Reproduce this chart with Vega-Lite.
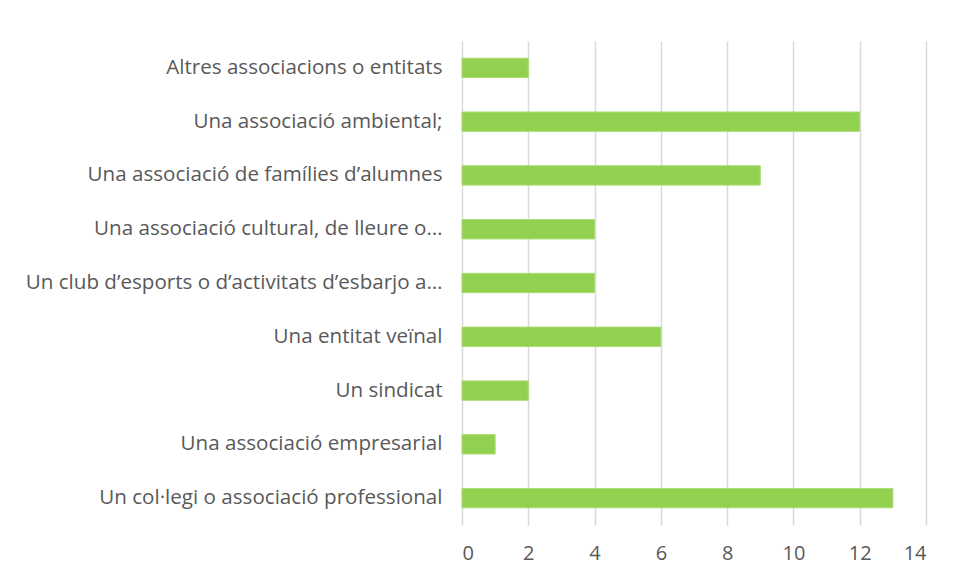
{
  "$schema": "https://vega.github.io/schema/vega-lite/v6.json",
  "width": 464,
  "height": 484,
  "autosize": {"type": "none"},
  "padding": {"left": 462, "top": 41, "right": 31, "bottom": 59},
  "background": "white",
  "data": {
    "values": [
      {"cat": "Altres associacions o entitats", "v": 2},
      {"cat": "Una associació ambiental;", "v": 12},
      {"cat": "Una associació de famílies d’alumnes", "v": 9},
      {"cat": "Una associació cultural, de lleure o…", "v": 4},
      {"cat": "Un club d’esports o d’activitats d’esbarjo a…", "v": 4},
      {"cat": "Una entitat veïnal", "v": 6},
      {"cat": "Un sindicat", "v": 2},
      {"cat": "Una associació empresarial", "v": 1},
      {"cat": "Un col·legi o associació professional", "v": 13}
    ]
  },
  "mark": {"type": "bar", "color": "#92D050", "stroke": "#a9dc73", "strokeWidth": 1},
  "encoding": {
    "y": {
      "field": "cat",
      "type": "nominal",
      "sort": null,
      "scale": {"paddingInner": 0.64, "paddingOuter": 0.32},
      "axis": {
        "title": null,
        "ticks": false,
        "domain": false,
        "grid": false,
        "labelFont": "Open Sans",
        "labelFontSize": 20.6,
        "labelColor": "#595959",
        "labelPadding": 20,
        "labelLimit": 0
      }
    },
    "x": {
      "field": "v",
      "type": "quantitative",
      "scale": {"domain": [0, 14], "nice": false},
      "axis": {
        "title": null,
        "values": [0, 2, 4, 6, 8, 10, 12, 14],
        "ticks": false,
        "domain": false,
        "grid": true,
        "gridColor": "#d9d9d9",
        "gridWidth": 1.5,
        "labelFont": "Open Sans",
        "labelFontSize": 20,
        "labelColor": "#595959",
        "labelPadding": 18
      }
    }
  },
  "config": {"view": {"stroke": null}}
}
